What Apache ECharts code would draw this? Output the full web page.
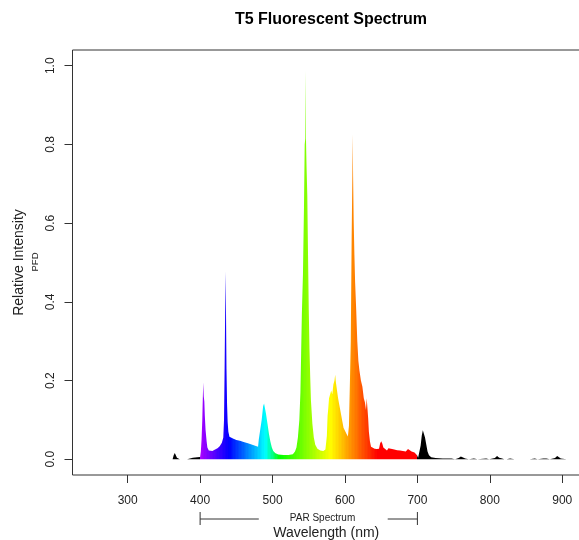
<!DOCTYPE html>
<html><head><meta charset="utf-8">
<script src="https://cdn.jsdelivr.net/npm/echarts@6/dist/echarts.min.js"></script>
<style>html,body{margin:0;padding:0;background:#fff}#c{width:579px;height:540px}</style>
</head><body><div id="c"></div>
<script>
// ---- data ----
const wavelengths = [
  250,284,285,286,308,309,310,336,337,338,357,358,359,362,363.5,365,366.5,368,370,372,382,383,390,396,
  400,401,402,403,403.5,404.3,405,405.8,406.5,407.5,409,410,412,414,417,420,424,427,430,432,433,433.8,434.6,435.1,435.7,436.4,437.2,438,439,440.5,
  443,446,450,455,460,466,472,477,480,481,483,485,487,488.3,489.5,491,493,495,497,499,501,504,508,515,522,528,531,533,535,537,538.5,539.5,540.5,542,543.4,544.4,545.2,545.7,546.2,547,548,549,550,551,552,553,555,557,559,562,566,570,573,575,576,577,578,579.5,581,582.5,584,585.5,586.5,587.5,589,590.5,592,593.5,595,596.5,598,599,600.5,602,604,605.5,607,608,609.2,610.2,610.7,611.2,612,613,614,615.5,617,618.5,620,622,624,626,627.5,629,630,631,632,633,634.5,636,638,641,644,647,648.5,650,651.5,653,655,658,660,662,665,668,672,676,680,684,687,689,692,694,696,698,699.5,700,
  701,703,704.5,706,707.5,709,710.5,712,714,716,719,725,735,747,748,752,753,757,760,762,766,768,771,772,778,779,783,784,795,796,799,800,807,810,811.5,813,817,820,823,824,828,829,834,835,838,841,842,845,855,856,862,863,866,867,874,876,878,880,883,884,890,893,895,898,900,906,907,909,916,917,919,925
];
const intensity = [
  0,0,0.003,0,0,0.003,0,0,0.003,0,0,0.003,0,0,0.01,0.016,0.01,0.004,0.002,0,0,0.004,0.004,0.005,
  0.006,0.02,0.05,0.1,0.14,0.195,0.16,0.147,0.11,0.075,0.045,0.03,0.022,0.02,0.021,0.024,0.028,0.033,0.042,0.055,0.1,0.23,0.38,0.477,0.38,0.23,0.14,0.095,0.07,0.057,
  0.053,0.052,0.049,0.047,0.044,0.041,0.037,0.034,0.032,0.05,0.075,0.1,0.135,0.142,0.138,0.115,0.09,0.065,0.045,0.03,0.021,0.015,0.012,0.011,0.011,0.013,0.02,0.03,0.055,0.1,0.17,0.27,0.37,0.47,0.64,0.8,0.815,0.987,0.81,0.74,0.67,0.52,0.38,0.28,0.21,0.15,0.09,0.055,0.037,0.027,0.022,0.021,0.025,0.06,0.11,0.13,0.155,0.15,0.175,0.165,0.19,0.2,0.215,0.195,0.175,0.155,0.14,0.125,0.11,0.095,0.08,0.085,0.075,0.065,0.058,0.085,0.21,0.3,0.56,0.72,0.826,0.72,0.61,0.52,0.45,0.38,0.3,0.25,0.225,0.2,0.185,0.155,0.145,0.125,0.155,0.16,0.105,0.07,0.045,0.032,0.028,0.027,0.026,0.027,0.04,0.046,0.04,0.03,0.025,0.022,0.028,0.03,0.026,0.025,0.023,0.022,0.021,0.02,0.026,0.022,0.02,0.024,0.017,0.018,0.01,0.006,
  0.004,0.006,0.035,0.06,0.074,0.07,0.055,0.04,0.02,0.01,0.005,0.003,0.002,0.002,0,0,0.002,0.003,0.007,0.003,0.002,0,0,0.002,0.002,0,0,0.002,0.002,0,0,0.002,0.003,0.008,0.011,0.004,0.002,0,0,0.002,0.002,0,0,0.002,0,0,0.002,0,0,0.002,0.002,0,0,0.002,0.002,0.004,0.002,0,0,0.002,0.003,0.008,0.004,0.002,0,0,0.002,0,0,0.002,0,0
];
const xTicks = [300, 400, 500, 600, 700, 800, 900];
const yTicks = [0, 0.2, 0.4, 0.6, 0.8, 1.0];
const parRange = [400, 700];
const titleText = 'T5 Fluorescent Spectrum';
const xName = 'Wavelength (nm)';
const yName = 'Relative Intensity';
const ySubName = 'PFD';
const parLabel = 'PAR Spectrum';

// ---- colours: wavelength -> visible colour, black outside PAR ----
function specColor(w) {
  let r = 0, g = 0, b = 0;
  if (w < 440) { r = -(w - 440) / 60; b = 1; }
  else if (w < 490) { g = (w - 440) / 50; b = 1; }
  else if (w < 510) { g = 1; b = -(w - 510) / 20; }
  else if (w < 580) { r = (w - 510) / 70; g = 1; }
  else if (w < 645) { r = 1; g = -(w - 645) / 65; }
  else { r = 1; }
  const h = v => Math.round(Math.max(0, Math.min(1, v)) * 255);
  return 'rgb(' + h(r) + ',' + h(g) + ',' + h(b) + ')';
}
const pieces = [{ lt: parRange[0], color: '#000000' }];
for (let w = parRange[0]; w < parRange[1]; w += 2) {
  pieces.push({ gte: w, lt: w + 2, color: specColor(w + 1) });
}
pieces.push({ gte: parRange[1], color: '#000000' });

const FONT = "'Liberation Sans', Arial, sans-serif";
const seriesData = wavelengths.map((w, i) => [w, intensity[i]]);

const option = {
  animation: false,
  backgroundColor: '#ffffff',
  textStyle: { fontFamily: FONT },
  title: {
    text: titleText, left: 326, top: 7, textAlign: 'center',
    textStyle: { fontFamily: FONT, fontSize: 16, fontWeight: 'bold', color: '#000' }
  },
  grid: { left: 72.5, right: -1, top: 50, bottom: 65, show: true, borderColor: '#333', borderWidth: 1,
    containLabel: false, outerBoundsMode: 'none' },
  xAxis: {
    type: 'value', min: 223.8, max: 924.5,
    axisLine: { show: false, onZero: false },
    axisTick: { show: true, inside: false, length: 8, lineStyle: { color: '#333' }, customValues: xTicks },
    axisLabel: { customValues: xTicks, margin: 20, fontSize: 12, color: '#222', fontFamily: FONT },
    splitLine: { show: false },
    name: xName, nameLocation: 'middle', nameGap: 51,
    nameTextStyle: { fontSize: 14, color: '#222', fontFamily: FONT }
  },
  yAxis: {
    type: 'value', min: -0.04, max: 1.04,
    axisLine: { show: false, onZero: false },
    axisTick: { show: true, inside: false, length: 8, lineStyle: { color: '#333' }, customValues: yTicks },
    axisLabel: { customValues: yTicks, rotate: 90, margin: 16, fontSize: 12, color: '#222', fontFamily: FONT,
      formatter: v => Number(v).toFixed(1) },
    splitLine: { show: false },
    name: yName, nameLocation: 'middle', nameGap: 46, nameRotate: 90,
    nameTextStyle: { fontSize: 14, color: '#222', fontFamily: FONT }
  },
  visualMap: {
    type: 'piecewise', show: false, dimension: 0, seriesIndex: 0, pieces: pieces
  },
  series: [{
    type: 'line', data: seriesData, showSymbol: false, symbol: 'none',
    lineStyle: { width: 0 }, areaStyle: { opacity: 1 }, silent: true, sampling: null
  }]
};

const chart = echarts.init(document.getElementById('c'), null, { renderer: 'canvas' });
chart.setOption(option);

const px = v => chart.convertToPixel({ xAxisIndex: 0 }, v);
const xL = px(parRange[0]), xR = px(parRange[1]);
const gapL = px(481), gapR = px(659), xText = px(569);
const yLine = 519;
const lineStyle = { stroke: '#333', lineWidth: 1 };
chart.setOption({
  graphic: [
    { type: 'line', shape: { x1: xL, y1: 512, x2: xL, y2: 525 }, style: lineStyle },
    { type: 'line', shape: { x1: xL, y1: yLine, x2: gapL, y2: yLine }, style: lineStyle },
    { type: 'line', shape: { x1: gapR, y1: yLine, x2: xR, y2: yLine }, style: lineStyle },
    { type: 'line', shape: { x1: xR, y1: 512, x2: xR, y2: 525 }, style: lineStyle },
    { type: 'text', x: xText, y: 518, style: { text: parLabel, fontSize: 10, fontFamily: FONT, fill: '#222', textAlign: 'center', textVerticalAlign: 'middle' } },
    { type: 'text', x: 35, y: 262, rotation: Math.PI / 2, style: { text: ySubName, fontSize: 9.5, fontFamily: FONT, fill: '#222', textAlign: 'center', textVerticalAlign: 'middle' } }
  ]
});
</script>
</body></html>
